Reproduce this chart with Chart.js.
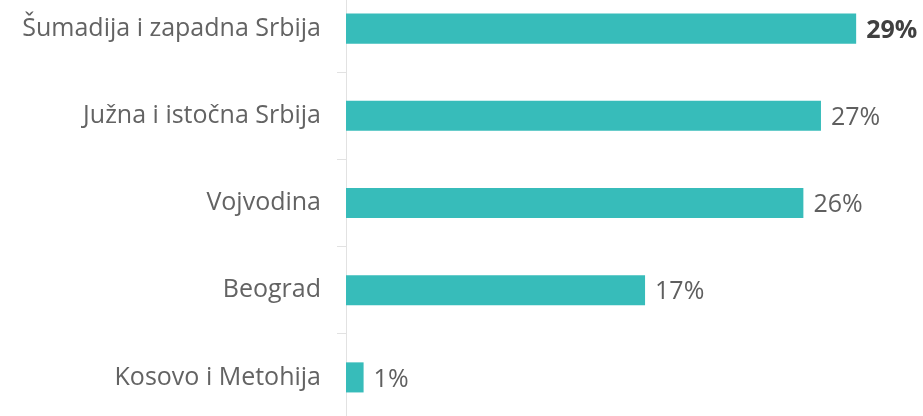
<!DOCTYPE html>
<html>
<head>
<meta charset="utf-8">
<script src="https://cdn.jsdelivr.net/npm/chart.js@4/dist/chart.umd.min.js"></script>
<style>
  html, body { margin: 0; padding: 0; background: #fff; overflow: hidden; }
  #wrap { position: absolute; left: 0; top: -46px; width: 923px; height: 498px; }
</style>
</head>
<body>
<div id="wrap"><canvas id="regions" width="923" height="498"></canvas></div>
<script>
const regions = ['Šumadija i zapadna Srbija', 'Južna i istočna Srbija', 'Vojvodina', 'Beograd', 'Kosovo i Metohija'];
const shares = [29, 27, 26, 17, 1];
const shareLabels = ['29%', '27%', '26%', '17%', '1%'];

const FONT = '"Open Sans", Lato, sans-serif';
const TEAL = '#37bcba';
const AXIS_GREY = '#e2e2e2';

// writes the percentage just past the end of each bar
const valueLabels = {
  id: 'valueLabels',
  afterDatasetsDraw(chart) {
    const ctx = chart.ctx;
    const meta = chart.getDatasetMeta(0);
    ctx.save();
    ctx.textBaseline = 'middle';
    ctx.textAlign = 'left';
    meta.data.forEach((bar, i) => {
      ctx.font = (i === 0 ? 'bold ' : '') + '25px ' + FONT;
      ctx.fillStyle = i === 0 ? '#404040' : '#5f5f5f';
      ctx.fillText(shareLabels[i], bar.x + 10, bar.y + 2);
    });
    ctx.restore();
  }
};

new Chart(document.getElementById('regions'), {
  type: 'bar',
  data: {
    labels: regions,
    datasets: [{
      data: shares,
      backgroundColor: TEAL,
      borderWidth: 0,
      barPercentage: 0.69,
      categoryPercentage: 0.5
    }]
  },
  options: {
    indexAxis: 'y',
    responsive: false,
    animation: false,
    layout: { padding: 0 },
    plugins: {
      legend: { display: false },
      tooltip: { enabled: false }
    },
    scales: {
      x: {
        display: false,
        min: 0,
        max: 32.8
      },
      y: {
        afterFit(scale) { scale.width = 346; },
        grid: {
          drawOnChartArea: false,
          drawTicks: true,
          tickLength: 9,
          color: AXIS_GREY,
          offset: true
        },
        border: { display: true, color: AXIS_GREY, width: 1 },
        ticks: {
          padding: 16,
          color: '#636363',
          font: { family: FONT, size: 25 }
        }
      }
    }
  },
  plugins: [valueLabels]
});
</script>
</body>
</html>
